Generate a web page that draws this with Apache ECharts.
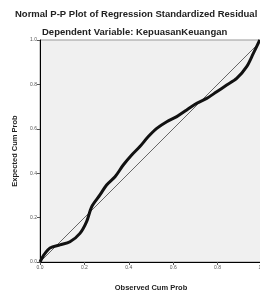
<!DOCTYPE html>
<html>
<head>
<meta charset="utf-8">
<script src="https://cdn.jsdelivr.net/npm/echarts@6/dist/echarts.min.js"></script>
<style>
  html, body { margin: 0; padding: 0; background: #fff; }
  #chart { width: 260px; height: 291px; }
</style>
</head>
<body>
<div id="chart"></div>
<script>
var observed = [0, 0.02, 0.045, 0.09, 0.135, 0.18, 0.21, 0.233, 0.27, 0.30, 0.338, 0.375, 0.413, 0.45, 0.488, 0.526, 0.571, 0.616, 0.661, 0.706, 0.751, 0.796, 0.841, 0.886, 0.931, 0.961, 0.99];
var expected = [0, 0.035, 0.063, 0.077, 0.091, 0.129, 0.182, 0.249, 0.302, 0.347, 0.384, 0.437, 0.482, 0.520, 0.565, 0.602, 0.632, 0.655, 0.685, 0.715, 0.737, 0.767, 0.797, 0.827, 0.880, 0.94, 1.0];
var diagonal = [[0, 0], [1, 1]];

var myChart = echarts.init(document.getElementById('chart'));

var pts = observed.map(function(x, i) {
  return [x, expected[i]];
});

var axisCommon = {
  type: 'value',
  min: 0,
  max: 1,
  interval: 0.2,
  splitLine: { show: false },
  axisLine: { show: true, lineStyle: { color: '#000', width: 1 } },
  axisTick: { show: true, length: 3, lineStyle: { color: '#555' } },
  axisLabel: {
    fontSize: 5,
    color: '#555',
    margin: 3,
    formatter: function(v) { return v.toFixed(1); }
  },
  nameLocation: 'middle',
  nameTextStyle: { fontSize: 7.5, fontWeight: 'bold', color: '#222', fontFamily: 'Arial' }
};

myChart.setOption({
  backgroundColor: '#fff',
  animation: false,
  title: [{
    text: 'Normal P-P Plot of Regression Standardized Residual',
    left: 15,
    top: 9,
    padding: 0,
    textStyle: { fontSize: 9.5, fontWeight: 'bold', color: '#222', fontFamily: 'Arial' }
  }, {
    text: 'Dependent Variable: KepuasanKeuangan',
    left: 42,
    top: 27,
    padding: 0,
    textStyle: { fontSize: 9.5, fontWeight: 'bold', color: '#222', fontFamily: 'Arial' }
  }],
  grid: {
    left: 40,
    top: 40,
    width: 222,
    height: 222,
    outerBoundsMode: 'none',
    containLabel: false,
    show: true,
    backgroundColor: '#f0f0f0',
    borderColor: '#999',
    borderWidth: 1
  },
  xAxis: Object.assign({}, axisCommon, {
    name: 'Observed Cum Prob',
    nameGap: 22
  }),
  yAxis: Object.assign({}, axisCommon, {
    name: 'Expected Cum Prob',
    nameGap: 18
  }),
  series: [{
    type: 'line',
    data: diagonal,
    symbol: 'none',
    lineStyle: { color: '#666', width: 1 },
    z: 2
  }, {
    type: 'line',
    data: pts,
    symbol: 'none',
    smooth: 0.3,
    lineStyle: { color: '#111', width: 3 },
    z: 3
  }]
});
</script>
</body>
</html>
